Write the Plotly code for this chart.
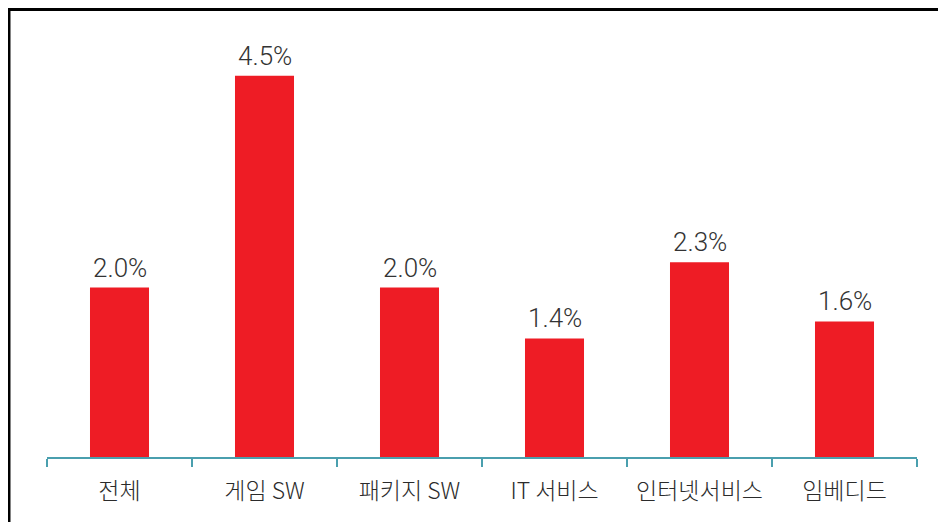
import plotly.graph_objects as go

categories = ["전체", "게임 SW", "패키지 SW", "IT 서비스", "인터넷서비스", "임베디드"]
values = [2.0, 4.5, 2.0, 1.4, 2.3, 1.6]
value_labels = [f"{v:.1f}%" for v in values]

fig = go.Figure()
fig.add_trace(go.Bar(
    x=categories, y=values,
    marker=dict(color="#ee1c25", line=dict(width=0)),
    hoverinfo="skip",
))

for c, v, t in zip(categories, values, value_labels):
    fig.add_annotation(x=c, y=v, text=t, showarrow=False, yanchor="bottom",
                       yshift=3, font=dict(family="Roboto, sans-serif", size=26, color="#333333", weight=300))

# outer frame (top and left edges visible)
fig.add_shape(type="rect", xref="paper", yref="paper",
              x0=-0.0437, x1=1.2, y0=-0.3, y1=1.058,
              line=dict(color="black", width=3), fillcolor="rgba(0,0,0,0)", layer="below")

fig.update_layout(
    width=946, height=522,
    margin=dict(l=39, r=37, t=26, b=73),
    paper_bgcolor="white", plot_bgcolor="white",
    bargap=0.593,
    showlegend=False,
    xaxis=dict(
        type="category",
        tickson="boundaries",
        ticks="outside", ticklen=8, tickwidth=2, tickcolor="#4a9fae",
        showline=True, linecolor="#4a9fae", linewidth=2,
        showgrid=False,
        tickfont=dict(family="Noto Sans CJK KR, sans-serif", size=23, color="#2b2b2b", weight=300),
        ticklabelstandoff=12,
    ),
    yaxis=dict(range=[0, 4.994], visible=False, showgrid=False, zeroline=False),
)

fig.write_html("out.html")
